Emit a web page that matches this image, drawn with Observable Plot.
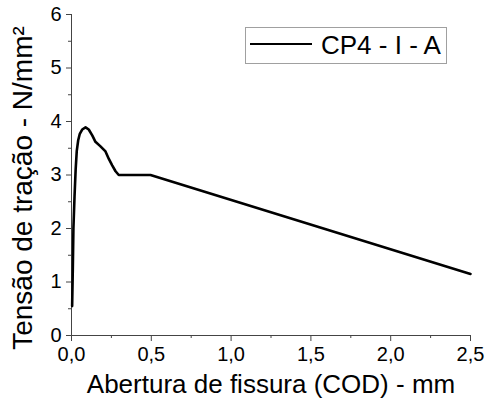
<!DOCTYPE html>
<html>
<head>
<meta charset="utf-8">
<script src="https://cdn.jsdelivr.net/npm/d3@7"></script>
<script src="https://cdn.jsdelivr.net/npm/@observablehq/plot@0.6"></script>
<style>
  html, body { margin: 0; padding: 0; background: #fff; }
  #wrap { position: relative; width: 488px; height: 403px; font-family: "Liberation Sans", Arial, sans-serif; }
  #legend { position: absolute; left: 245px; top: 27px; width: 202px; height: 37px; border: 1px solid #a0a0a0; background: #fff; box-sizing: border-box; }
  #legend .swatch { position: absolute; left: 4px; top: 15px; width: 62px; height: 0; border-top: 2.5px solid #000; }
  #legend .lab { position: absolute; left: 75px; top: 2px; font-size: 26px; line-height: 30px; color: #000; white-space: nowrap; }
</style>
</head>
<body>
<div id="wrap"></div>
<script>
// Data
const seriesName = "CP4 - I - A";
const cod =     [0.004, 0.008, 0.012, 0.019, 0.026, 0.033, 0.042, 0.052, 0.067, 0.088, 0.108, 0.13, 0.15, 0.18, 0.213, 0.234, 0.255, 0.276, 0.296, 0.495, 2.5];
const tensao =  [0.55,  1.2,   2.0,   2.6,   3.1,   3.45,  3.65,  3.77,  3.85,  3.89,  3.85,  3.74, 3.62, 3.54, 3.44,  3.30,  3.18,  3.07,  3.0,   3.0,   1.15];
const xTicks = [0, 0.5, 1.0, 1.5, 2.0, 2.5];
const xMinor = [0.25, 0.75, 1.25, 1.75, 2.25];
const yTicks = [0, 1, 2, 3, 4, 5, 6];
const yMinor = [0.5, 1.5, 2.5, 3.5, 4.5, 5.5];
const xTitle = "Abertura de fissura (COD) - mm";
const yTitle = "Tensão de tração - N/mm²";

const data = cod.map((c, i) => ({cod: c, t: tensao[i]}));
const fmtX = d => d.toFixed(1).replace(".", ",");

const chart = Plot.plot({
  width: 488,
  height: 403,
  marginLeft: 71,
  marginRight: 18,
  marginTop: 14,
  marginBottom: 68,
  x: {domain: [0, 2.5]},
  y: {domain: [0, 6]},
  style: {fontFamily: "'Liberation Sans', Arial, sans-serif", fontSize: "20px", color: "#000", background: "#fff"},
  marks: [
    Plot.axisX({ticks: xTicks, tickSize: 6, tickPadding: 5, tickFormat: fmtX, label: null, stroke: "#444", fontSize: 20}),
    Plot.axisX({ticks: xMinor, tickSize: 3, tickFormat: () => "", label: null, stroke: "#444"}),
    Plot.axisY({ticks: yTicks, tickSize: 5, tickPadding: 5, tickFormat: d => String(d), label: null, stroke: "#444", fontSize: 20}),
    Plot.axisY({ticks: yMinor, tickSize: 3, tickFormat: () => "", label: null, stroke: "#444"}),
    Plot.ruleX([0], {stroke: "#444"}),
    Plot.ruleY([0], {stroke: "#444"}),
    Plot.line(data, {x: "cod", y: "t", stroke: "#000", strokeWidth: 2.6, strokeLinejoin: "round", strokeLinecap: "round"}),
    Plot.text([xTitle], {frameAnchor: "bottom", dy: 57, fontSize: 26, fill: "#000"}),
    Plot.text([yTitle], {frameAnchor: "left", textAnchor: "middle", rotate: -90, dx: -48, dy: 13, fontSize: 28, fill: "#000"})
  ]
});

const wrap = document.getElementById("wrap");
wrap.appendChild(chart);
const legend = document.createElement("div");
legend.id = "legend";
legend.innerHTML = `<div class="swatch"></div><div class="lab"></div>`;
legend.querySelector(".lab").textContent = seriesName;
wrap.appendChild(legend);
</script>
</body>
</html>
